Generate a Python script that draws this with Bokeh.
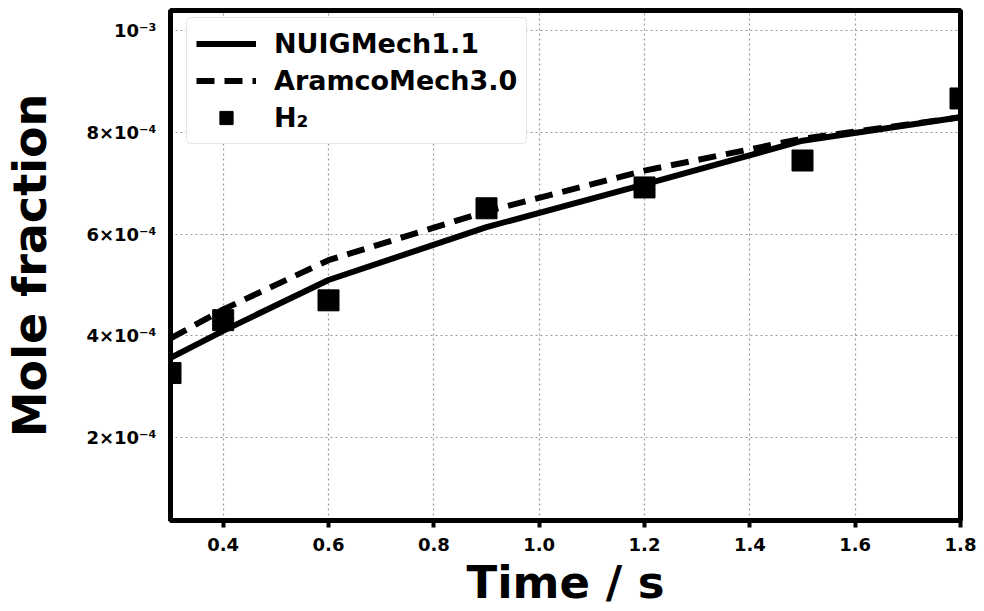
from bokeh.plotting import figure
from bokeh.models import FixedTicker, Range1d
from bokeh.embed import file_html
from bokeh.resources import INLINE

# Data
t_sim = [0.3, 0.4, 0.6, 0.9, 1.2, 1.5, 1.8]
nuig = [3.57e-4, 4.10e-4, 5.10e-4, 6.14e-4, 6.98e-4, 7.84e-4, 8.30e-4]
aramco = [3.95e-4, 4.52e-4, 5.49e-4, 6.45e-4, 7.25e-4, 7.88e-4, 8.30e-4]
t_exp = [0.3, 0.4, 0.6, 0.9, 1.2, 1.5, 1.8]
h2 = [3.27e-4, 4.31e-4, 4.70e-4, 6.51e-4, 6.92e-4, 7.45e-4, 8.67e-4]

x_ticks = [0.4, 0.6, 0.8, 1.0, 1.2, 1.4, 1.6, 1.8]
y_ticks = [2e-4, 4e-4, 6e-4, 8e-4, 1e-3]
y_tick_labels = ["2×10⁻⁴", "4×10⁻⁴", "6×10⁻⁴", "8×10⁻⁴", "10⁻³"]

FONT = "DejaVu Sans"

p = figure(width=984, height=611, output_backend="svg", toolbar_location=None,
           x_range=Range1d(0.3, 1.8), y_range=Range1d(3.7e-5, 1.04e-3),
           min_border_left=167, min_border_top=10, min_border_right=24, min_border_bottom=90)
p.background_fill_color = "white"
p.border_fill_color = "white"
p.outline_line_color = "black"
p.outline_line_width = 5

p.line(t_sim, nuig, line_color="black", line_width=6, legend_label="NUIGMech1.1")
p.line(t_sim, aramco, line_color="black", line_width=6, line_dash="18 10",
       legend_label="AramcoMech3.0")
p.scatter(t_exp, h2, marker="square", size=21, fill_color="black", line_color="black",
          legend_label="H₂")

p.xaxis.ticker = FixedTicker(ticks=x_ticks)
p.yaxis.ticker = FixedTicker(ticks=y_ticks)
p.yaxis.major_label_overrides = {v: s for v, s in zip(y_ticks, y_tick_labels)}
p.xaxis.major_label_overrides = {v: f"{v:.1f}" for v in x_ticks}

for ax in (p.xaxis, p.yaxis):
    ax.axis_line_color = "black"
    ax.axis_line_width = 5
    ax.major_label_text_font = FONT
    ax.major_label_text_font_style = "bold"
    ax.major_label_text_font_size = "18px"
    ax.major_label_text_color = "black"
    ax.axis_label_text_font = FONT
    ax.axis_label_text_font_style = "bold"
    ax.axis_label_text_color = "black"
    ax.minor_tick_line_color = None

p.xaxis.axis_label = "Time / s"
p.yaxis.axis_label = "Mole fraction"
p.xaxis.axis_label_text_font_size = "45px"
p.yaxis.axis_label_text_font_size = "46px"
p.xaxis.major_tick_line_width = 4
p.xaxis.major_tick_line_color = "black"
p.xaxis.major_tick_out = 7
p.xaxis.major_tick_in = 0
p.xaxis.major_label_standoff = 10
p.xaxis.axis_label_standoff = 2
p.yaxis.major_tick_line_color = None
p.yaxis.major_tick_out = 0
p.yaxis.major_tick_in = 0
p.yaxis.major_label_standoff = 14
p.yaxis.axis_label_standoff = 26

p.xgrid.ticker = FixedTicker(ticks=x_ticks)
p.ygrid.ticker = FixedTicker(ticks=y_ticks)
for g in (p.xgrid, p.ygrid):
    g.grid_line_color = "#999999"
    g.grid_line_dash = "2 3"
    g.grid_line_width = 1.2

lg = p.legend[0]
lg.location = (16, 376)
lg.margin = 0
lg.border_line_color = "#cccccc"
lg.border_line_width = 1.5
lg.border_radius = 5
lg.background_fill_alpha = 1.0
lg.label_text_font = FONT
lg.label_text_font_style = "bold"
lg.label_text_font_size = "27px"
lg.label_text_color = "black"
lg.glyph_width = 60
lg.glyph_height = 33
lg.spacing = 4
lg.label_standoff = 18
lg.padding = 9

open("out.html", "w").write(file_html(p, INLINE))
